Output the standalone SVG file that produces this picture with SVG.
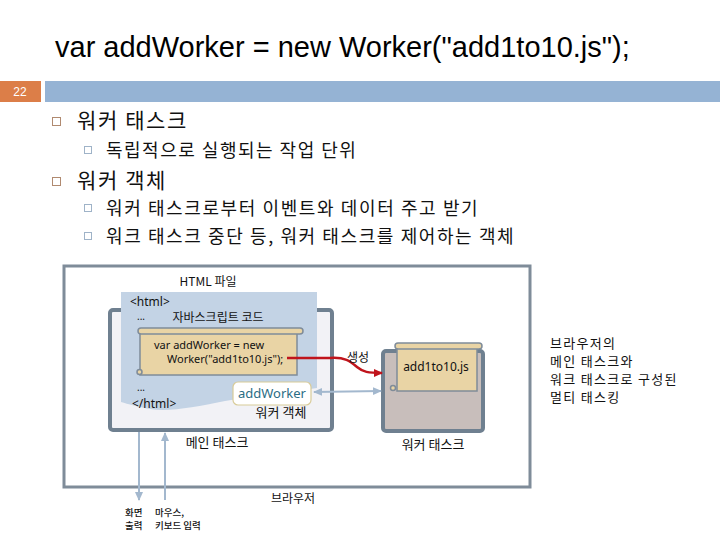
<svg xmlns="http://www.w3.org/2000/svg" width="720" height="540" viewBox="0 0 720 540">
<style>
.kr{font-family:"Noto Sans CJK KR","Noto Sans",sans-serif;fill:#111}
.dg{font-family:"Noto Sans","Noto Sans CJK KR",sans-serif;fill:#111}
.tan{fill:#e9d4a5;stroke:#7f8c99;stroke-width:1.5}
</style>
<defs>
<marker id="ar" markerUnits="userSpaceOnUse" markerWidth="10" markerHeight="10" refX="8" refY="5" orient="auto"><path d="M0,1 L9,5 L0,9 Z" fill="#c0141c"/></marker>
<marker id="ab" markerUnits="userSpaceOnUse" markerWidth="10" markerHeight="10" refX="8" refY="5" orient="auto-start-reverse"><path d="M0,1 L9,5 L0,9 Z" fill="#a3b8ce"/></marker>
</defs>
<rect width="720" height="540" fill="#fff"/>
<text x="55" y="57" font-family="Liberation Sans,Arial,sans-serif" font-size="29" fill="#000">var addWorker = new Worker("add1to10.js");</text>
<rect x="0" y="81" width="41" height="21" fill="#dc7e48"/>
<text x="20" y="96" text-anchor="middle" font-family="Liberation Sans,sans-serif" font-size="12" fill="#fff">22</text>
<rect x="45" y="81" width="675" height="21" fill="#95b3d4"/>
<g fill="none" stroke-width="1">
<rect x="52.5" y="117.5" width="8" height="8" stroke="#b08a70"/>
<rect x="52.5" y="177.5" width="8" height="8" stroke="#b08a70"/>
<rect x="84.5" y="146.5" width="7" height="7" stroke="#9fb3c8"/>
<rect x="84.5" y="204.5" width="7" height="7" stroke="#9fb3c8"/>
<rect x="84.5" y="232.5" width="7" height="7" stroke="#9fb3c8"/>
</g>
<g class="kr">
<text x="77" y="128" font-size="21" letter-spacing="1.6">워커 태스크</text>
<text x="106" y="157" font-size="18" letter-spacing="1.5">독립적으로 실행되는 작업 단위</text>
<text x="77" y="188" font-size="21" letter-spacing="1.6">워커 객체</text>
<text x="106" y="215" font-size="18" letter-spacing="1.6">워커 태스크로부터 이벤트와 데이터 주고 받기</text>
<text x="106" y="243" font-size="18" letter-spacing="1.6">워크 태스크 중단 등, 워커 태스크를 제어하는 객체</text>
</g>
<g id="browser">
<rect x="64" y="266" width="466" height="221" fill="#fff" stroke="#7f8c99" stroke-width="3"/>
<text class="kr" x="293" y="503" text-anchor="middle" font-size="12">브라우저</text>
</g>
<g id="main-task">
<rect x="110" y="310" width="222" height="120" rx="3" fill="#f2f2f6" stroke="#6f8090" stroke-width="4"/>
<text class="kr" x="217" y="447" text-anchor="middle" font-size="13">메인 태스크</text>
</g>
<g id="html-file">
<path d="M121,292 H317 V388 C290,392 255,396 225,401 C195,407 170,412 150,409 C138,407 128,404 121,402 Z" fill="#c3d3e5"/>
<text class="kr" x="208" y="286" text-anchor="middle" font-size="12">HTML 파일</text>
<text class="dg" x="130" y="306" font-size="12">&lt;html&gt;</text>
<text class="dg" x="137" y="320" font-size="10">...</text>
<text class="kr" x="218" y="322" text-anchor="middle" font-size="12">자바스크립트 코드</text>
<text class="dg" x="137" y="391" font-size="10">...</text>
<text class="dg" x="132" y="408" font-size="12">&lt;/html&gt;</text>
</g>
<g id="js-code">
<rect class="tan" x="140" y="331" width="157" height="44"/>
<rect class="tan" x="138" y="328" width="165" height="6" rx="3"/>
<circle class="tan" cx="139.5" cy="372" r="2.5"/>
<text class="dg" x="154" y="349" font-size="11">var addWorker = new</text>
<text class="dg" x="167" y="363" font-size="11">Worker("add1to10.js");</text>
</g>
<g id="add-worker">
<rect x="233" y="382" width="78" height="23" rx="5" fill="#fff" stroke="#d8cb98" stroke-width="1.2"/>
<text x="272" y="398" text-anchor="middle" font-family="Noto Sans,sans-serif" font-size="13" fill="#2b6d84">addWorker</text>
<text class="kr" x="281" y="417" text-anchor="middle" font-size="13">워커 객체</text>
</g>
<g id="worker-task">
<rect x="383" y="351" width="100" height="80" rx="3" fill="#c8bebb" stroke="#6f8090" stroke-width="4"/>
<rect class="tan" x="397" y="346" width="80" height="45"/>
<rect class="tan" x="395" y="343" width="87" height="6" rx="3"/>
<circle class="tan" cx="393" cy="388" r="2.5"/>
<text class="dg" x="436" y="371" text-anchor="middle" font-size="12">add1to10.js</text>
<text class="kr" x="433" y="449" text-anchor="middle" font-size="13">워커 태스크</text>
</g>
<g id="note">
<text class="kr" font-size="13" letter-spacing="1.3"><tspan x="550" y="348">브라우저의</tspan><tspan x="550" y="366">메인 태스크와</tspan><tspan x="550" y="384">워크 태스크로 구성된</tspan><tspan x="550" y="402">멀티 태스킹</tspan></text>
</g>
<g id="io-labels" class="kr" font-size="9.5" font-weight="500">
<text x="125" y="516">화면</text>
<text x="125" y="529">출력</text>
<text x="155" y="516">마우스,</text>
<text x="155" y="529">키보드 입력</text>
</g>
<g id="connectors" fill="none">
<path d="M287,358 H330 C345,357 350,361 357,367 C363,372 368,373 382,373" stroke="#c0141c" stroke-width="2.5" marker-end="url(#ar)"/>
<text class="kr" x="358" y="362" text-anchor="middle" font-size="12">생성</text>
<path d="M314,392 L381,391" stroke="#a3b8ce" stroke-width="2" marker-start="url(#ab)" marker-end="url(#ab)"/>
<path d="M139,432 V500" stroke="#a3b8ce" stroke-width="2" marker-end="url(#ab)"/>
<path d="M165,500 V433" stroke="#a3b8ce" stroke-width="2" marker-end="url(#ab)"/>
</g>
</svg>
